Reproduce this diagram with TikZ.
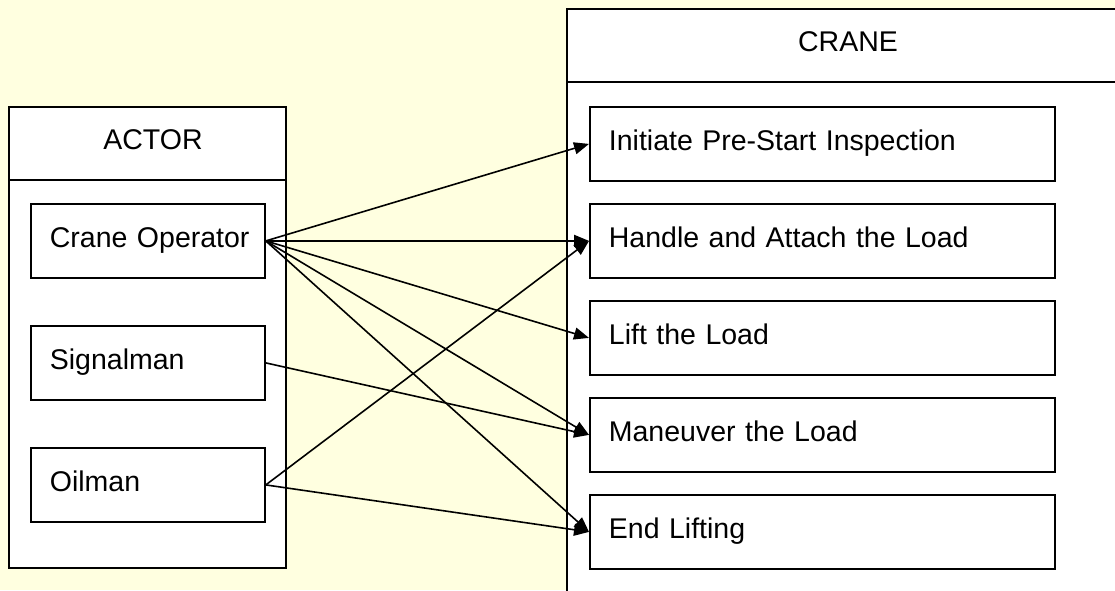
\documentclass[tikz,border=0pt]{standalone}
\usepackage{fontspec}
\setmainfont{Liberation Sans}
\usetikzlibrary{arrows.meta}
\definecolor{paper}{RGB}{255,255,224}
\tikzset{
  frame/.style={draw=black, line width=1.8pt, fill=white},
  item/.style={draw=black, line width=1.8pt, fill=white, rectangle, inner xsep=0pt, inner ysep=0pt,
    align=left, minimum height=74pt, anchor=north west, text height=20pt, text depth=6pt,
    font=\fontsize{28.5}{34}\selectfont, execute at begin node={\hspace*{19pt}}},
  actoritem/.style={item, text width=234pt},
  craneitem/.style={item, text width=465pt},
  title/.style={font=\fontsize{28.5}{34}\selectfont, anchor=base, inner sep=0pt},
  link/.style={draw=black, line width=1.6pt, -{Triangle[length=15pt,width=12pt]}}
}
\begin{document}
\begin{tikzpicture}[x=1pt,y=-1pt]
  \useasboundingbox (0,0) rectangle (1115,590);
  \fill[paper] (0,0) rectangle (1115,590);

  % actor container
  \draw[frame] (9,107) rectangle (286,568);
  \draw[line width=1.8pt] (9,180) -- (286,180);
  \node[title] (actortitle) at (153,149) {ACTOR};

  % crane container (runs past the right and bottom edges)
  \begin{scope}
    \clip (0,0) rectangle (1115,590);
    \draw[frame] (567,9) rectangle (1140,610);
    \draw[line width=1.8pt] (567,82) -- (1140,82);
  \end{scope}
  \node[title] (cranetitle) at (848,51) {CRANE};

  % actors
  \node[actoritem] (op)  at (30,203) {Crane Operator};
  \node[actoritem] (sig) at (30,325) {Signalman};
  \node[actoritem] (oil) at (30,447) {Oilman};

  % crane tasks
  \node[craneitem] (t1) at (589,106) {Initiate Pre-Start Inspection};
  \node[craneitem] (t2) at (589,203) {Handle and Attach the Load};
  \node[craneitem] (t3) at (589,300) {Lift the Load};
  \node[craneitem] (t4) at (589,397) {Maneuver the Load};
  \node[craneitem] (t5) at (589,494) {End Lifting};

  % links
  \draw[link] (op.east) -- (t1.west);
  \draw[link] (op.east) -- (t2.west);
  \draw[link] (op.east) -- (t3.west);
  \draw[link] (op.east) -- (t4.west);
  \draw[link] (op.east) -- (t5.west);
  \draw[link] (sig.east) -- (t4.west);
  \draw[link] (oil.east) -- (t2.west);
  \draw[link] (oil.east) -- (t5.west);
\end{tikzpicture}
\end{document}
